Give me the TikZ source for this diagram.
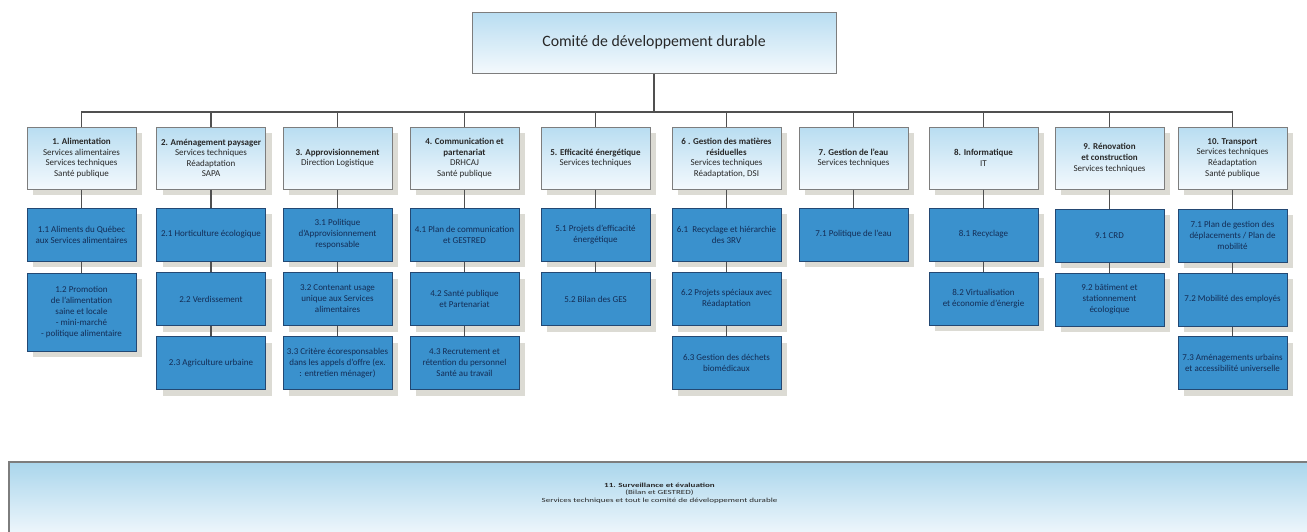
\documentclass[tikz,border=0pt]{standalone}
\usepackage{fontspec}
\setmainfont{Carlito}
\usetikzlibrary{shadows}
\definecolor{hdrtop}{RGB}{184,221,241}
\definecolor{hdrbot}{RGB}{244,249,253}
\definecolor{hdrline}{RGB}{125,125,125}
\definecolor{hdrtext}{RGB}{40,40,40}
\definecolor{chfill}{RGB}{58,145,205}
\definecolor{chline}{RGB}{35,72,115}
\definecolor{chtext}{RGB}{20,45,85}
\definecolor{shadowc}{RGB}{220,219,212}
\definecolor{linkc}{RGB}{80,80,80}
\definecolor{survtop}{RGB}{170,214,236}
\tikzset{
  shade6/.style={drop shadow={shadow xshift=6pt, shadow yshift=-6pt, fill=shadowc, opacity=1}},
  hdr/.style={draw=hdrline, line width=1pt, top color=hdrtop, bottom color=hdrbot,
    minimum width=109pt, minimum height=62pt, inner sep=1pt, align=center,
    text=hdrtext, font=\fontsize{9}{10.6}\selectfont, shade6},
  child/.style={draw=chline, line width=1pt, fill=chfill,
    minimum width=109pt, minimum height=53pt, inner sep=1pt, align=center,
    text=chtext, font=\fontsize{9}{11}\selectfont, shade6},
  topbox/.style={draw=hdrline, line width=1pt, top color=hdrtop, bottom color=hdrbot,
    minimum width=364pt, minimum height=61pt, align=center,
    text=hdrtext, font=\fontsize{15.8}{18}\selectfont},
  survbox/.style={draw=hdrline, line width=1.2pt, top color=survtop, bottom color=hdrbot,
    minimum width=1301pt, minimum height=78pt, align=center, inner sep=0pt,
    text=hdrtext, font=\fontsize{9}{10.8}\selectfont},
  link/.style={draw=linkc, line width=1.4pt}
}
\begin{document}
\begin{tikzpicture}[x=1pt,y=-1pt]
\clip (0,0) rectangle (1307,531);
\fill[white] (0,0) rectangle (1307,531);

\node[topbox] (top) at (654,42.5) {Comité de développement durable};

% headers
\node[hdr] (h1) at (81.5,158) {\textbf{1. Alimentation}\\Services alimentaires\\Services techniques\\Santé publique};
\node[hdr] (h2) at (211,158) {\textbf{2. Aménagement paysager}\\Services techniques\\Réadaptation\\SAPA};
\node[hdr] (h3) at (337.5,158) {\textbf{3. Approvisionnement}\\Direction Logistique};
\node[hdr] (h4) at (464.5,158) {\textbf{4. Communication et}\\\textbf{partenariat}\\DRHCAJ\\Santé publique};
\node[hdr] (h5) at (595.5,158) {\textbf{5. Efficacité énergétique}\\Services techniques};
\node[hdr] (h6) at (726.5,158) {\textbf{6 . Gestion des matières}\\\textbf{résiduelles}\\Services techniques\\Réadaptation, DSI};
\node[hdr] (h7) at (853.5,158) {\textbf{7. Gestion de l'eau}\\Services techniques};
\node[hdr] (h8) at (983.5,158) {\textbf{8. Informatique}\\IT};
\node[hdr] (h9) at (1109.5,158) {\textbf{9. Rénovation}\\\textbf{et construction}\\Services techniques};
\node[hdr] (h10) at (1232.5,158) {\textbf{10. Transport}\\Services techniques\\Réadaptation\\Santé publique};

% children column 1
\node[child] (c11) at (81.5,234.5) {1.1 Aliments du Québec\\aux Services alimentaires};
\node[child, minimum height=78pt] (c12) at (81.5,312) {1.2 Promotion\\de l'alimentation\\saine et locale\\- mini-marché\\- politique alimentaire};
% column 2
\node[child] (c21) at (211,234.5) {2.1 Horticulture écologique};
\node[child] (c22) at (211,299) {2.2 Verdissement};
\node[child] (c23) at (211,363) {2.3 Agriculture urbaine};
% column 3
\node[child] (c31) at (337.5,234.5) {3.1 Politique\\d'Approvisionnement\\responsable};
\node[child] (c32) at (337.5,299) {3.2 Contenant usage\\unique aux Services\\alimentaires};
\node[child] (c33) at (337.5,363) {3.3 Critère écoresponsables\\dans les appels d'offre (ex.\\: entretien ménager)};
% column 4
\node[child] (c41) at (464.5,234.5) {4.1 Plan de communication\\et GESTRED};
\node[child] (c42) at (464.5,299) {4.2 Santé publique\\et Partenariat};
\node[child] (c43) at (464.5,363) {4.3 Recrutement et\\rétention du personnel\\Santé au travail};
% column 5
\node[child] (c51) at (595.5,234.5) {5.1 Projets d'efficacité\\énergétique};
\node[child] (c52) at (595.5,299) {5.2 Bilan des GES};
% column 6
\node[child] (c61) at (726.5,234.5) {6.1\ \ Recyclage et hiérarchie\\des 3RV};
\node[child] (c62) at (726.5,299) {6.2 Projets spéciaux avec\\Réadaptation};
\node[child] (c63) at (726.5,363) {6.3 Gestion des déchets\\biomédicaux};
% column 7
\node[child] (c71) at (853.5,234.5) {7.1 Politique de l'eau};
% column 8
\node[child] (c81) at (983.5,234.5) {8.1 Recyclage};
\node[child] (c82) at (983.5,298.5) {8.2 Virtualisation\\et économie d'énergie};
% column 9
\node[child] (c91) at (1109.5,235.5) {9.1 CRD};
\node[child] (c92) at (1109.5,299.5) {9.2 bâtiment et\\stationnement\\écologique};
% column 10
\node[child] (c101) at (1232.5,235.5) {7.1 Plan de gestion des\\déplacements / Plan de\\mobilité};
\node[child] (c102) at (1232.5,299.5) {7.2 Mobilité des employés};
\node[child] (c103) at (1232.5,363) {7.3 Aménagements urbains\\et accessibilité universelle};

% bottom box
\node[survbox] (surv) at (659.5,501) {\scalebox{1}[0.7]{\begin{tabular}{@{}c@{}}\textbf{11. Surveillance et évaluation}\\(Bilan et GESTRED)\\Services techniques et tout le comité de développement durable\end{tabular}}\rule[-25pt]{0pt}{25pt}};

% connectors
\coordinate (hub) at (654,112);
\draw[link] (top.south) -- (hub);
\draw[link] (h1.north) -- (h1.north |- hub) -- (h10.north |- hub) -- (h10.north);
\foreach \h in {h2,h3,h4,h5,h6,h7,h8,h9}{
  \draw[link] (\h.north) -- (\h.north |- hub);
}
\draw[link] (h1) -- (c11); \draw[link] (c11) -- (c12);
\draw[link] (h2) -- (c21); \draw[link] (c21) -- (c22); \draw[link] (c22) -- (c23);
\draw[link] (h3) -- (c31); \draw[link] (c31) -- (c32); \draw[link] (c32) -- (c33);
\draw[link] (h4) -- (c41); \draw[link] (c41) -- (c42); \draw[link] (c42) -- (c43);
\draw[link] (h5) -- (c51); \draw[link] (c51) -- (c52);
\draw[link] (h6) -- (c61); \draw[link] (c61) -- (c62); \draw[link] (c62) -- (c63);
\draw[link] (h7) -- (c71);
\draw[link] (h8) -- (c81); \draw[link] (c81) -- (c82);
\draw[link] (h9) -- (c91); \draw[link] (c91) -- (c92);
\draw[link] (h10) -- (c101); \draw[link] (c101) -- (c102); \draw[link] (c102) -- (c103);
\end{tikzpicture}
\end{document}
